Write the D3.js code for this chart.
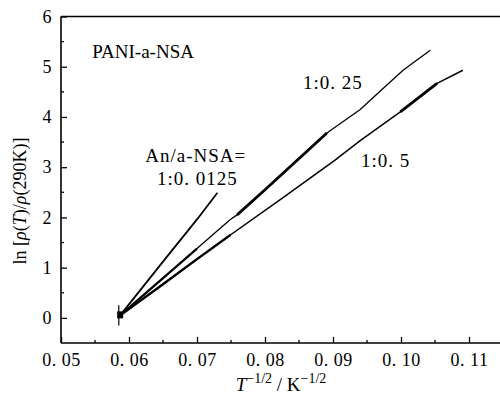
<!DOCTYPE html>
<html>
<head>
<meta charset="utf-8">
<script src="https://cdn.jsdelivr.net/npm/d3@7"></script>
<style>
  body { margin: 0; background: #fff; }
  svg text { font-family: "Liberation Serif", "Times New Roman", Times, serif; fill: #000; }
</style>
</head>
<body>
<div id="chart"></div>
<script>
// data: x = T^-1/2, y = ln[rho(T)/rho(290K)]
var x0125 = [0.0587, 0.0650, 0.0700, 0.0730];
var y0125 = [0.05, 1.12, 1.96, 2.49];

var x025 = [0.0587, 0.0650, 0.0700, 0.0749, 0.0759, 0.0800, 0.0891, 0.0940, 0.0974, 0.1003, 0.1043];
var y025 = [0.05, 0.79, 1.38, 1.96, 2.05, 2.55, 3.68, 4.15, 4.57, 4.93, 5.33];

var x05 = [0.0587, 0.0650, 0.0700, 0.0749, 0.0825, 0.0903, 0.0940, 0.0999, 0.1053, 0.1091];
var y05 = [0.05, 0.67, 1.17, 1.65, 2.38, 3.14, 3.53, 4.10, 4.67, 4.93];

// stretches of the curves drawn with a heavier pen
var thick025 = [0.0759, 0.0891];
var thick05 = [0.0999, 0.1053];

var xTicks = [0.05, 0.06, 0.07, 0.08, 0.09, 0.10, 0.11];
var yTicks = [0, 1, 2, 3, 4, 5, 6];

var labels = [
  { text: "PANI-a-NSA", x: 0.0546, y: 5.17, sp: 0 },
  { text: "An/a-NSA=", x: 0.0624, y: 3.10, sp: 1 },
  { text: "1:0. 0125", x: 0.0641, y: 2.64, sp: 1 },
  { text: "1:0. 25", x: 0.0856, y: 4.56, sp: 1 },
  { text: "1:0. 5", x: 0.0941, y: 3.00, sp: 1 }
];

var width = 500, height = 399;
var svg = d3.select("#chart").append("svg")
  .attr("width", width)
  .attr("height", height);

var x = d3.scaleLinear().domain([0.05, 0.115]).range([61, 503]);
var y = d3.scaleLinear().domain([-0.5, 6]).range([343, 16.5]);

// axes with inward ticks
var fmt = function (d) { return d3.format(".2f")(d).replace(".", ". "); };
var xAxis = d3.axisBottom(x).tickValues(xTicks).tickFormat(fmt).tickSize(-6).tickPadding(10);
var gx = svg.append("g").attr("transform", "translate(0," + y(-0.5) + ")").call(xAxis);
var yAxis = d3.axisLeft(y).tickValues(yTicks).tickFormat(d3.format("d")).tickSize(-6).tickPadding(9);
var gy = svg.append("g").attr("transform", "translate(" + x(0.05) + ",0)").call(yAxis);

[gx, gy].forEach(function (g) {
  g.attr("font-family", null);
  g.select(".domain").attr("stroke-width", 1.6);
  g.selectAll(".tick line").attr("stroke-width", 1.3);
  g.selectAll("text").style("font-size", "18px").style("letter-spacing", "0.5px");
});
gx.select(".domain").attr("d", "M" + x.range()[0] + ",0H" + x.range()[1]);
gy.select(".domain").attr("d", "M0," + y.range()[0] + "V" + y.range()[1]);

// minor ticks
svg.append("g").selectAll("line")
  .data([0.055, 0.065, 0.075, 0.085, 0.095, 0.105])
  .enter().append("line")
  .attr("x1", function (d) { return x(d); }).attr("x2", function (d) { return x(d); })
  .attr("y1", y(-0.5)).attr("y2", y(-0.5) - 3)
  .attr("stroke", "#000").attr("stroke-width", 1.3);
svg.append("g").selectAll("line")
  .data([0.5, 1.5, 2.5, 3.5, 4.5, 5.5])
  .enter().append("line")
  .attr("y1", function (d) { return y(d); }).attr("y2", function (d) { return y(d); })
  .attr("x1", x(0.05)).attr("x2", x(0.05) + 3)
  .attr("stroke", "#000").attr("stroke-width", 1.3);

// top frame
svg.append("line")
  .attr("x1", x(0.05)).attr("x2", x.range()[1])
  .attr("y1", y(6)).attr("y2", y(6))
  .attr("stroke", "#000").attr("stroke-width", 1.6);

var line = d3.line()
  .x(function (d) { return x(d[0]); })
  .y(function (d) { return y(d[1]); });

function draw(xs, ys, w) {
  var pts = d3.zip(xs, ys);
  svg.append("path").datum(pts)
    .attr("d", line)
    .attr("fill", "none").attr("stroke", "#000").attr("stroke-width", w)
    .attr("stroke-linejoin", "round");
  return pts;
}
function heavy(pts, range, w) {
  var seg = pts.filter(function (p) { return p[0] >= range[0] && p[0] <= range[1]; });
  svg.append("path").datum(seg)
    .attr("d", line)
    .attr("fill", "none").attr("stroke", "#000").attr("stroke-width", w)
    .attr("stroke-linejoin", "round");
}

draw(x0125, y0125, 1.8);
var p025 = draw(x025, y025, 1.3);
var p05 = draw(x05, y05, 1.5);
heavy(p025, thick025, 2.8);
heavy(p05, thick05, 2.8);
// heavy noisy start of the two lower curves
heavy(p025, [0.0587, 0.0700], 2.2);
heavy(p05, [0.0587, 0.0749], 2.4);

// cluster at the origin
svg.append("rect")
  .attr("x", x(0.0587) - 3).attr("y", y(0.05) - 4)
  .attr("width", 6).attr("height", 7);
svg.append("line")
  .attr("x1", x(0.0585)).attr("x2", x(0.0585))
  .attr("y1", y(-0.15)).attr("y2", y(0.25))
  .attr("stroke", "#000").attr("stroke-width", 1.2);

// annotations
svg.append("g").selectAll("text")
  .data(labels)
  .enter().append("text")
  .attr("x", function (d) { return x(d.x); })
  .attr("y", function (d) { return y(d.y); })
  .style("font-size", "19px")
  .style("letter-spacing", function (d) { return d.sp + "px"; })
  .text(function (d) { return d.text; });

// axis titles
var xt = svg.append("text")
  .attr("x", 281).attr("y", 391)
  .attr("text-anchor", "middle")
  .style("font-size", "19px");
xt.append("tspan").attr("font-style", "italic").text("T");
xt.append("tspan").attr("dy", -8).style("font-size", "14px").text("\u22121/2");
xt.append("tspan").attr("dy", 8).text(" / K");
xt.append("tspan").attr("dy", -8).style("font-size", "14px").text("\u22121/2");

var yt = svg.append("text")
  .attr("transform", "translate(26,201) rotate(-90)")
  .attr("text-anchor", "middle")
  .style("font-size", "18px");
yt.append("tspan").text("ln [");
yt.append("tspan").attr("font-style", "italic").text("\u03c1");
yt.append("tspan").text("(");
yt.append("tspan").attr("font-style", "italic").text("T");
yt.append("tspan").text(")/");
yt.append("tspan").attr("font-style", "italic").text("\u03c1");
yt.append("tspan").text("(290K)]");
</script>
</body>
</html>
